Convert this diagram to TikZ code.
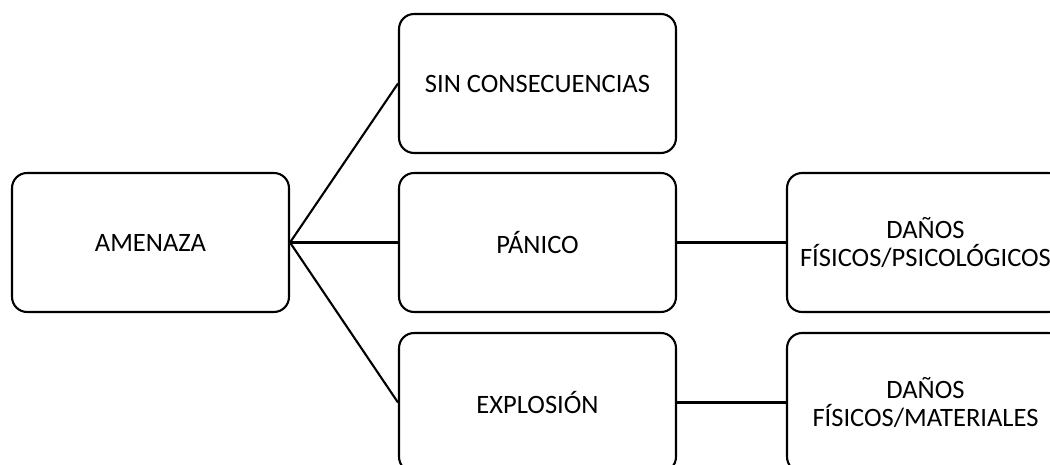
\documentclass[tikz,border=0pt]{standalone}
\usepackage{fontspec}
\setmainfont{Carlito}
\usetikzlibrary{positioning}

\begin{document}
\begin{tikzpicture}[x=0.02cm, y=-0.02cm,
  font=\fontsize{15.1}{16.5}\selectfont,
  box/.style={draw, rounded corners=0.3cm, align=center, line width=1.2pt, minimum width=5.54cm, minimum height=2.78cm, inner sep=2pt},
  link/.style={line width=1.2pt}
]
\path[use as bounding box, clip] (0,0) rectangle (1050,465);
% ================= left: the threat =================
\node[box] (ame) at (150.5,242.5) {AMENAZA};
% ================= middle column =================
\node[box] (sin) at (537.5,83.5) {SIN CONSECUENCIAS};
\node[box] (pan) at (537.5,242.5) {PÁNICO};
\node[box] (exp) at (537.5,402.5) {EXPLOSIÓN};
% ================= right column =================
\node[box] (psi) at (925.5,242.5) {DAÑOS\\[0pt] FÍSICOS/PSICOLÓGICOS};
\node[box] (mat) at (925.5,402.5) {DAÑOS\\[0pt] FÍSICOS/MATERIALES};
% ================= connectors =================
\draw[link] (ame.east) -- (sin.west);
\draw[link] (ame.east) -- (pan.west);
\draw[link] (ame.east) -- (exp.west);
\draw[link] (pan) -- (psi);
\draw[link] (exp) -- (mat);
\end{tikzpicture}
\end{document}
